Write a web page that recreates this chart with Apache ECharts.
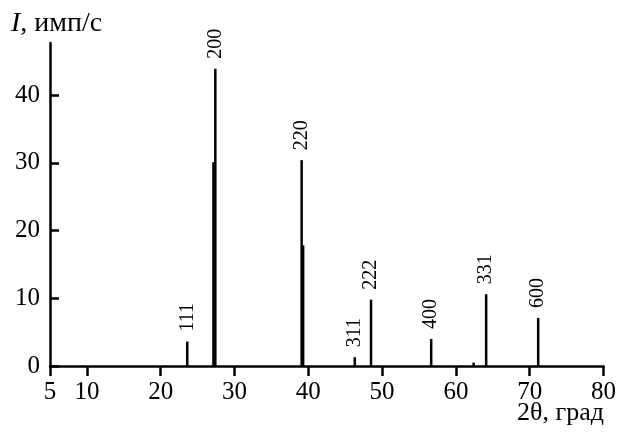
<!DOCTYPE html>
<html>
<head>
<meta charset="utf-8">
<script src="https://cdn.jsdelivr.net/npm/echarts@6/dist/echarts.min.js"></script>
<style>
html,body{margin:0;padding:0;background:#fff;}
#c{width:619px;height:432px;}
</style>
</head>
<body>
<div id="c"></div>
<script>
// Peak positions (2θ, deg), intensities (imp/s) and Miller indices
var peakPos = [23.6, 27.15, 27.4, 39.1, 39.3, 46.3, 48.5, 56.65, 62.4, 64.1, 71.15];
var peakInt = [3.6, 30.1, 43.9, 30.4, 17.8, 1.3, 9.8, 4.0, 0.5, 10.6, 7.1];
var peakHkl = ['111', '', '200', '220', '', '311', '222', '400', '', '331', '600'];
var xTicks = [5, 10, 20, 30, 40, 50, 60, 70, 80];
var yTicks = [0, 10, 20, 30, 40];

var serif = '"Liberation Serif", "DejaVu Serif", serif';
var data = peakPos.map(function (x, i) {
  return {
    value: [x, peakInt[i]],
    label: { show: peakHkl[i] !== '', formatter: peakHkl[i] }
  };
});

var chart = echarts.init(document.getElementById('c'), null, { renderer: 'canvas' });
chart.setOption({
  backgroundColor: '#fff',
  animation: false,
  grid: { left: 50, right: 15, top: 43, bottom: 66, containLabel: false },
  xAxis: {
    type: 'value', min: 5, max: 80,
    axisLine: { show: true, lineStyle: { color: '#000', width: 2.5 } },
    axisTick: { show: true, inside: false, length: 10, lineStyle: { color: '#000', width: 2.5 }, customValues: xTicks },
    axisLabel: { color: '#000', fontFamily: serif, fontSize: 25, margin: 14, customValues: xTicks },
    splitLine: { show: false }
  },
  yAxis: {
    type: 'value', min: 0, max: 47.7,
    axisLine: { show: true, lineStyle: { color: '#000', width: 2.5 } },
    axisTick: { show: true, inside: true, length: 9, lineStyle: { color: '#000', width: 2.5 }, customValues: yTicks },
    axisLabel: { color: '#000', fontFamily: serif, fontSize: 25, margin: 10, customValues: yTicks },
    splitLine: { show: false }
  },
  series: [{
    type: 'bar',
    barWidth: 2.5,
    itemStyle: { color: '#000' },
    label: {
      position: 'top', rotate: 90, align: 'left', verticalAlign: 'middle',
      distance: 10, color: '#000', fontFamily: serif, fontSize: 20
    },
    data: data
  }],
  graphic: [
    {
      type: 'text', left: 11, top: 10,
      style: {
        text: '{i|I}, имп/с',
        font: '28px ' + serif, fill: '#000',
        rich: { i: { fontStyle: 'italic', fontFamily: serif, fontSize: 28, fill: '#000' } }
      }
    },
    {
      type: 'text', right: 15, top: 400,
      style: { text: '2θ, град', font: '26px ' + serif, fill: '#000' }
    }
  ]
});
</script>
</body>
</html>
